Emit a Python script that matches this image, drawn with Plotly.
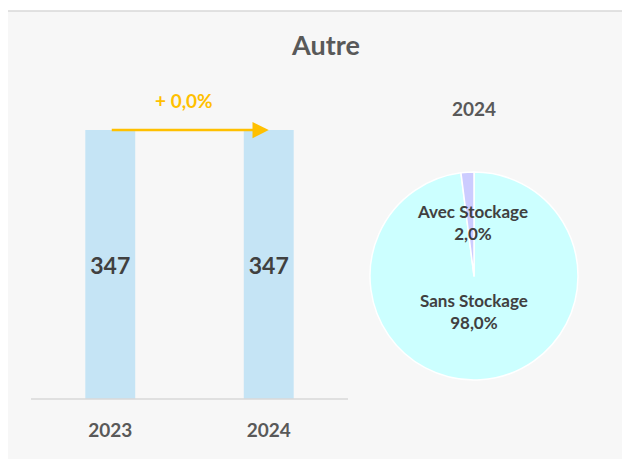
import plotly.graph_objects as go

# ---- data ----
years = ["2023", "2024"]
totals = [347, 347]
evolution_label = "+ 0,0%"
pie_year = "2024"
pie_labels = ["Avec Stockage", "Sans Stockage"]
pie_values = [2.0, 98.0]
pie_colors = ["#CCCCFF", "#CCFFFF"]
title_text = "Autre"

W, H = 630, 459
OFF = 8  # page body margin
FONT = "Lato"
GREY = "#595959"
DARK = "#404040"
ORANGE = "#FFC000"

def px_x(x):
    return (x - OFF) / W

def px_y(y):
    return 1 - (y - OFF) / H

fig = go.Figure()

fig.add_trace(go.Bar(
    x=years, y=totals, width=0.315,
    marker=dict(color="#C5E4F5", line=dict(width=0)),
    text=[str(v) for v in totals], textposition="inside",
    insidetextanchor="middle",
    textfont=dict(family=FONT, size=23, color=DARK, weight="bold"),
    cliponaxis=False, hoverinfo="skip", showlegend=False,
))

# drawn clockwise from 12 o'clock in reverse order so the small slice sits just left of 12
fig.add_trace(go.Pie(
    labels=pie_labels[::-1], values=pie_values[::-1], sort=False, direction="clockwise",
    rotation=0, textinfo="none",
    marker=dict(colors=pie_colors[::-1], line=dict(color="white", width=1.5)),
    domain=dict(x=[px_x(370), px_x(578)], y=[px_y(380), px_y(172)]),
    showlegend=False, hoverinfo="skip",
))

total = sum(pie_values)
pct = [f"{v / total * 100:.1f}".replace(".", ",") + "%" for v in pie_values]
pie_label_pos = [(472, 223), (474, 311)]
annotations = []
for lab, p, (ax_, ay_) in zip(pie_labels, pct, pie_label_pos):
    annotations.append(dict(
        xref="paper", yref="paper", x=px_x(ax_), y=px_y(ay_),
        text=f"{lab}<br>{p}", showarrow=False,
        font=dict(family=FONT, size=17, color=DARK, weight="bold"),
        xanchor="center", yanchor="middle",
    ))

annotations += [
    dict(xref="paper", yref="paper", x=px_x(325), y=px_y(45), text=title_text,
         showarrow=False, font=dict(family=FONT, size=27, color=GREY, weight="bold"),
         xanchor="center", yanchor="middle"),
    dict(xref="paper", yref="paper", x=px_x(474), y=px_y(108), text=pie_year,
         showarrow=False, font=dict(family=FONT, size=19, color=GREY, weight="bold"),
         xanchor="center", yanchor="middle"),
    # arrow from first bar to second bar
    dict(xref="x", yref="y", axref="x", ayref="y",
         x=1, y=totals[1], ax=0, ay=totals[0],
         showarrow=True, arrowhead=2, arrowsize=1.3, arrowwidth=2.5,
         arrowcolor=ORANGE, text="", standoff=0, startstandoff=0),
    dict(xref="x", yref="y", x=0.5, y=totals[1], text=evolution_label,
         showarrow=False, yshift=30, xshift=-6,
         font=dict(family=FONT, size=19, color=ORANGE, weight="bold"),
         xanchor="center", yanchor="middle"),
]

shapes = [
    dict(type="rect", xref="paper", yref="paper", x0=px_x(6), x1=px_x(640),
         y0=px_y(470), y1=px_y(11), fillcolor="#F7F7F7",
         line=dict(color="#D9D9D9", width=1.5), layer="below"),
    dict(type="line", xref="paper", yref="paper", x0=px_x(31), x1=px_x(348),
         y0=px_y(399), y1=px_y(399), line=dict(color="#D9D9D9", width=1.5)),
]

fig.update_layout(
    width=W, height=H, margin=dict(l=0, r=0, t=0, b=0),
    paper_bgcolor="white", plot_bgcolor="rgba(0,0,0,0)",
    xaxis=dict(domain=[px_x(31), px_x(348)], range=[-0.5, 1.5], type="category",
               showgrid=False, zeroline=False, showline=False, ticks="",
               tickfont=dict(family=FONT, size=19, color=GREY, weight="bold"),
               ticklabelstandoff=18),
    yaxis=dict(domain=[px_y(399), px_y(130)], range=[0, 347], visible=False,
               showgrid=False, zeroline=False),
    annotations=annotations, shapes=shapes,
)

fig.write_html("out.html")
